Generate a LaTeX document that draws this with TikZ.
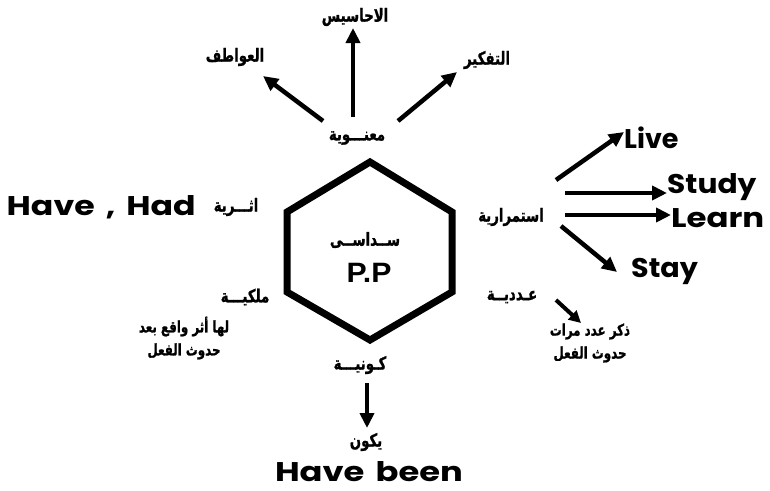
\documentclass[tikz,border=0pt]{standalone}
\usepackage{fontspec}
\usetikzlibrary{arrows.meta}
\TeXXeTstate=1
\newfontfamily\arabicfont[Script=Arabic,BoldFeatures={FakeBold=1.2}]{DejaVu Sans}
\newfontfamily\enfont{Poppins}
\newfontfamily\ppfont{Liberation Sans}
\newcommand{\ar}[1]{\scalebox{0.74}[1]{\arabicfont\bfseries\beginR #1\endR}}
\newcommand{\en}[2]{\scalebox{#1}[1]{#2}}
\begin{document}
\begin{tikzpicture}[x=1pt,y=-1pt,
  artext/.style={inner sep=0pt, font=\fontsize{18}{20}\selectfont},
  entext/.style={inner sep=0pt, font=\fontsize{27}{30}\selectfont\enfont\bfseries},
  arr/.style={line width=4.5pt, -{Triangle[length=15pt,width=14pt]}},
  hexline/.style={line width=7pt, line join=miter}]
\useasboundingbox (0,0) rectangle (770,490);
% hexagon
\draw[hexline] (370,162) -- (452,212) -- (452,292) -- (370,340) -- (287,292) -- (287,212) -- cycle;
\node[artext] (sedasy) at (365,240) {\ar{ســداســى}};
\node[inner sep=0pt, anchor=base, font=\fontsize{28}{30}\selectfont\ppfont\bfseries] (pp) at (369,282) {\en{1.08}{P.P}};
% top
\node[artext] (manawia) at (357,138) {\ar{معنـــوية}};
\node[artext] (awatef) at (235,57) {\ar{العواطف}};
\node[artext] (ahasis) at (355,17) {\ar{الاحاسيس}};
\node[artext] (tafkir) at (487,60) {\ar{التفكير}};
\coordinate (m1) at (323,121);
\coordinate (m2) at (353,117);
\coordinate (m3) at (398,121);
\coordinate (t1) at (263,76);
\coordinate (t2) at (353,28);
\coordinate (t3) at (457,72);
\draw[arr] (m1) -- (t1);
\draw[arr] (m2) -- (t2);
\draw[arr] (m3) -- (t3);
% left
\node[artext] (athareya) at (236,207) {\ar{اثـــرية}};
\node[entext, anchor=base east] (havehad) at (196,215) {\en{1.23}{Have\,\,,\,\,Had}};
\node[artext] (melkeya) at (245,297) {\ar{ملكيـــة}};
\node[artext, align=center, font=\fontsize{16}{23}\selectfont] (lahaathar) at (184,338) {\ar{لها أثر واقع بعد}\\\ar{حدوث الفعل}};
% right
\node[artext] (estemrar) at (511,217) {\ar{استمرارية}};
\node[entext, anchor=base west] (live) at (624,148) {\en{1.0}{Live}};
\node[entext, anchor=base west] (study) at (667,193) {\en{1.1}{Study}};
\node[entext, anchor=base west] (learn) at (671,227) {\en{1.2}{Learn}};
\node[entext, anchor=base west] (stay) at (631,277) {\en{1.06}{Stay}};
\coordinate (e1) at (556,180);
\coordinate (e2) at (565,193);
\coordinate (e3) at (565,215);
\coordinate (e4) at (561,226);
\draw[arr] (e1) -- (live.west|-132,132) ;
\draw[arr] (e2) -- (study.west|-193,193);
\draw[arr] (e3) -- (learn.west|-215,215);
\draw[arr] (e4) -- (617,272);
\node[artext] (adadeya) at (512,297) {\ar{عـدديــة}};
\coordinate (a1) at (556,300);
\coordinate (a2) at (581,323);
\draw[arr, line width=4pt, -{Triangle[length=12pt,width=12pt]}] (a1) -- (a2);
\node[artext, align=center, font=\fontsize{16}{23}\selectfont] (zekr) at (590,343) {\ar{ذكر عدد مرات}\\\ar{حدوث الفعل}};
% bottom
\node[artext] (kawneya) at (360,365) {\ar{كـونيـــة}};
\coordinate (k1) at (367,383);
\node[artext] (yakun) at (366,442) {\ar{يكون}};
\draw[arr] (k1) -- (367,428);
\node[entext, anchor=base] (havebeen) at (369,481) {\en{1.25}{Have\,\,been}};
\end{tikzpicture}
\end{document}
